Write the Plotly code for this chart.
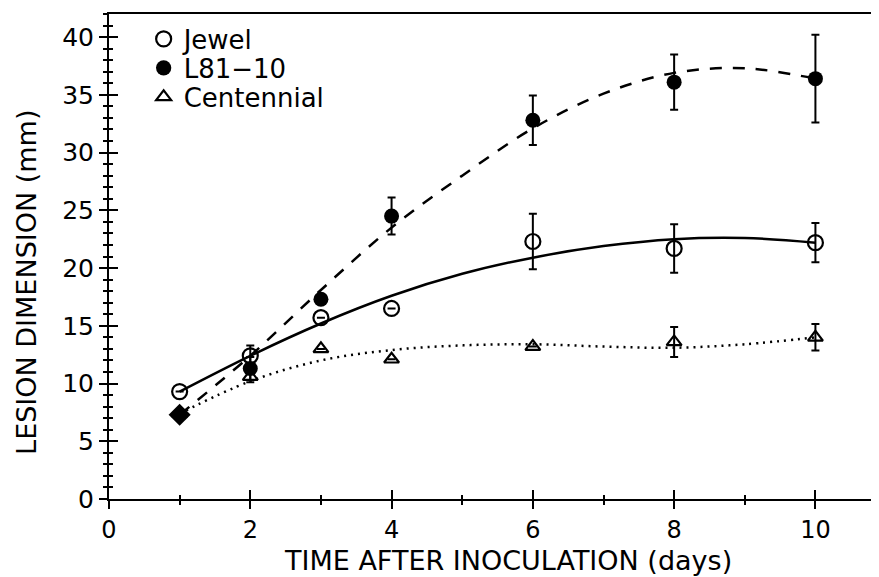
import plotly.graph_objects as go

# ---- data ----
days = [1, 2, 3, 4, 6, 8, 10]

jewel = [9.3, 12.4, 15.7, 16.5, 22.3, 21.7, 22.2]
jewel_err = [0, 0.9, 0, 0, 2.4, 2.1, 1.7]

l81 = [7.3, 11.3, 17.3, 24.5, 32.8, 36.1, 36.4]
l81_err = [0, 1.0, 0, 1.6, 2.15, 2.4, 3.8]

cent = [7.4, 10.6, 13.0, 12.1, 13.2, 13.6, 14.0]
cent_err = [0, 0.5, 0, 0, 0, 1.3, 1.15]

# fitted curves, read at whole days
curve_x = [1, 2, 3, 4, 5, 6, 7, 8, 9, 10]
jewel_fit = [9.3, 12.4, 15.2, 17.6, 19.5, 20.9, 21.9, 22.5, 22.6, 22.2]
l81_fit = [7.3, 12.4, 18.1, 23.5, 28.0, 32.1, 35.1, 36.9, 37.3, 36.4]
cent_fit = [7.4, 10.2, 12.0, 12.9, 13.3, 13.4, 13.2, 13.1, 13.4, 14.0]

x_ticks = [0, 2, 4, 6, 8, 10]
y_ticks = [0, 5, 10, 15, 20, 25, 30, 35, 40]

FONT = "DejaVu Sans"
BLK = "black"

fig = go.Figure()

# fitted curves on the overlay axes (x2/y2 share ranges with x/y)
fig.add_trace(go.Scatter(x=curve_x, y=jewel_fit, mode="lines", line=dict(color=BLK, width=2.5, shape="spline"),
                         showlegend=False, xaxis="x2", yaxis="y2", hoverinfo="skip"))
fig.add_trace(go.Scatter(x=curve_x, y=l81_fit, mode="lines",
                         line=dict(color=BLK, width=2.5, shape="spline", dash="12px,11px"),
                         showlegend=False, xaxis="x2", yaxis="y2", hoverinfo="skip"))
fig.add_trace(go.Scatter(x=curve_x, y=cent_fit, mode="lines",
                         line=dict(color=BLK, width=2.5, shape="spline", dash="2px,5px"),
                         showlegend=False, xaxis="x2", yaxis="y2", hoverinfo="skip"))

err_style = dict(type="data", color=BLK, thickness=2, width=4)

fig.add_trace(go.Scatter(x=days, y=cent, mode="markers", name="Centennial", legend="legend3",
                         marker=dict(symbol="triangle-up-open", size=13, color=BLK, opacity=1,
                                     line=dict(width=2.2, color=BLK)),
                         error_y=dict(array=cent_err, **err_style)))
fig.add_trace(go.Scatter(x=days, y=jewel, mode="markers", name="Jewel", legend="legend",
                         marker=dict(symbol="circle-open", size=15, color=BLK, opacity=1,
                                     line=dict(width=2.2, color=BLK)),
                         error_y=dict(array=jewel_err, **err_style)))
# L81-10 listed from day 10 back to day 1 so the legend shows the circle; day 1 point is drawn as a diamond
fig.add_trace(go.Scatter(x=days[::-1], y=l81[::-1], mode="markers", name="L81\u221210", legend="legend2",
                         marker=dict(symbol=["circle"] * 6 + ["diamond"], size=[15] * 6 + [17], color=BLK,
                                     opacity=1, line=dict(width=0)),
                         error_y=dict(array=l81_err[::-1], **err_style)))

axis_common = dict(showgrid=False, zeroline=False, linecolor=BLK, linewidth=2, tickcolor=BLK, tickwidth=2)

leg_common = dict(x=0.045, xanchor="left", yanchor="middle", bgcolor="rgba(0,0,0,0)",
                  font=dict(family=FONT, size=26, color=BLK), itemwidth=30)

fig.update_layout(
    width=871, height=569,
    margin=dict(l=101, r=0, t=6, b=78),
    paper_bgcolor="white", plot_bgcolor="white",
    font=dict(family=FONT, size=24, color=BLK),
    showlegend=True,
    legend=dict(y=0.9485, **leg_common),
    legend2=dict(y=0.8888, **leg_common),
    legend3=dict(y=0.829, **leg_common),
    xaxis=dict(range=[0, 10.9], tickvals=x_ticks, ticks="outside", ticklen=8, showline=True, mirror=True,
               minor=dict(dtick=1, tick0=0, ticks="outside", ticklen=4, tickwidth=2, tickcolor=BLK),
               tickfont=dict(family=FONT, size=24), **axis_common),
    yaxis=dict(range=[0, 42], tickvals=y_ticks, ticks="outside", ticklen=8, showline=True,
               minor=dict(dtick=1, tick0=0, ticks="outside", ticklen=4, tickwidth=2, tickcolor=BLK),
               tickfont=dict(family=FONT, size=25), **axis_common),
    xaxis2=dict(range=[0, 10.9], overlaying="x", anchor="y2", side="bottom", tickvals=x_ticks, ticks="inside",
                ticklen=9, showticklabels=False, showline=False,
                minor=dict(dtick=1, tick0=0, ticks="inside", ticklen=4, tickwidth=2, tickcolor=BLK),
                showgrid=False, zeroline=False, tickcolor=BLK, tickwidth=2),
    yaxis2=dict(range=[0, 42], overlaying="y", anchor="x2", side="left", tickvals=y_ticks, ticks="inside",
                ticklen=9, showticklabels=False, showline=False,
                minor=dict(dtick=1, tick0=0, ticks="inside", ticklen=4, tickwidth=2, tickcolor=BLK),
                showgrid=False, zeroline=False, tickcolor=BLK, tickwidth=2),
    annotations=[
        dict(text="TIME AFTER INOCULATION (days)", xref="paper", yref="paper", x=0.518, y=-0.1265,
             xanchor="center", yanchor="middle", showarrow=False, font=dict(family=FONT, size=27)),
        dict(text="LESION DIMENSION (mm)", xref="paper", yref="paper", x=-0.1075, y=0.446,
             xanchor="center", yanchor="middle", textangle=-90, showarrow=False,
             font=dict(family=FONT, size=27)),
    ],
)

fig.write_html("out.html")
